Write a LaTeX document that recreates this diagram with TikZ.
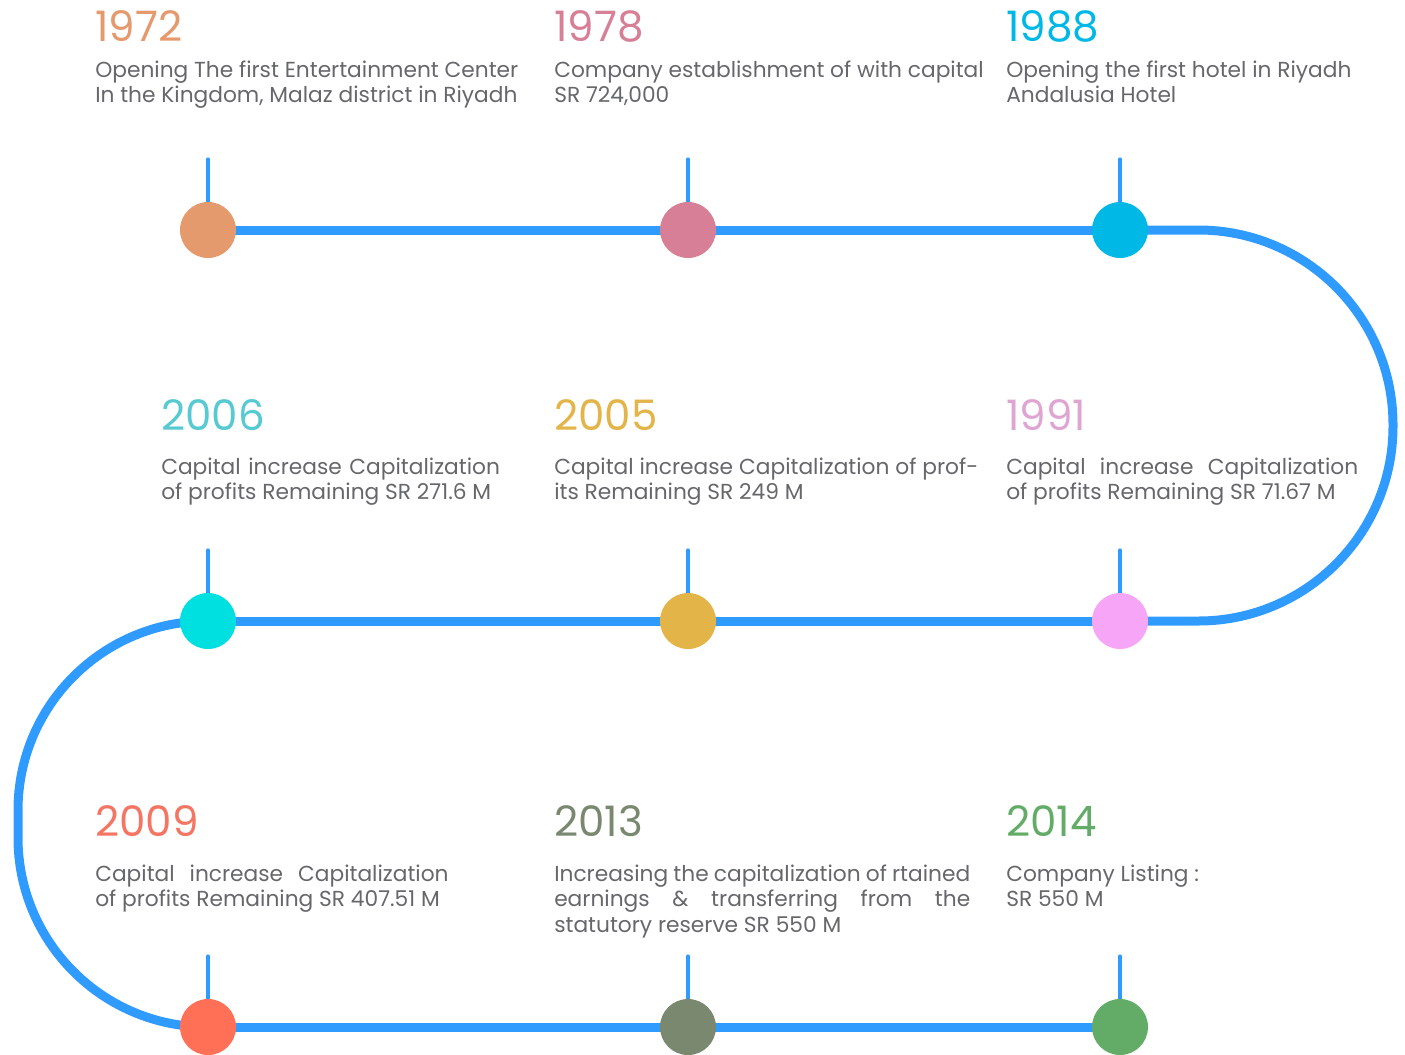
\documentclass[tikz,border=0pt]{standalone}
\usepackage{fontspec}
\setmainfont{Poppins}
\usetikzlibrary{positioning,backgrounds}

\definecolor{lineblue}{HTML}{2F9BFF}
\definecolor{textgray}{HTML}{66676B}
\definecolor{c72}{HTML}{E59A6E}
\definecolor{c78}{HTML}{D67F96}
\definecolor{c88}{HTML}{00B8E6}
\definecolor{c91}{HTML}{F7A6F7}
\definecolor{c05}{HTML}{E3B447}
\definecolor{c06}{HTML}{00E0E0}
\definecolor{c09}{HTML}{FF7057}
\definecolor{c13}{HTML}{7A8870}
\definecolor{c14}{HTML}{62AC67}
\definecolor{y91}{HTML}{DFA5D2}
\definecolor{y06}{HTML}{56C9D2}
\definecolor{y09}{HTML}{F47561}

% one justified line of a given width
\newcommand{\spreadline}[2]{{\spaceskip=0pt\xspaceskip=0pt\makebox[#1][s]{#2}}}

\tikzset{
  milestone/.style={circle,fill=#1,minimum size=42pt,inner sep=0pt},
  year/.style={anchor=base west,text=#1,inner sep=0pt,
    font=\fontsize{31.5}{38}\selectfont},
  info/.style={anchor=base west,text=textgray,inner sep=0pt,align=justify,
    text width=330pt,font=\fontsize{16.3}{19.3}\selectfont},
  track/.style={lineblue,line width=6.75pt},
  tick/.style={lineblue,line width=2.4pt,line cap=round},
}

\begin{document}
\begin{tikzpicture}[x=0.75pt,y=-0.75pt]
  \useasboundingbox (0,0) rectangle (1405,1054);

  % stops
  \node[milestone=c72] (d72) at (208,230) {};
  \node[milestone=c78] (d78) at (688,230) {};
  \node[milestone=c88] (d88) at (1120,230) {};
  \node[milestone=c91] (d91) at (1120,621) {};
  \node[milestone=c05] (d05) at (688,621) {};
  \node[milestone=c06] (d06) at (208,621) {};
  \node[milestone=c09] (d09) at (208,1027) {};
  \node[milestone=c13] (d13) at (688,1027) {};
  \node[milestone=c14] (d14) at (1120,1027) {};

  \foreach \s in {72,78,88,91,05,06,09,13,14}
    \coordinate[above=32pt of d\s.north] (t\s);

  \coordinate (cr1) at (1393,230);
  \coordinate (cr2) at (1393,621);
  \coordinate (cl1) at (18,621);
  \coordinate (cl2) at (18,1027);

  % years
  \node[year=c72] (y72) at (95,41) {1972};
  \node[year=c78] (y78) at (554,41) {1978};
  \node[year=c88] (y88) at (1006,41) {1988};
  \node[year=y06] (y06) at (161,430) {2006};
  \node[year=c05] (y05) at (554,430) {2005};
  \node[year=y91] (y91) at (1006,430) {1991};
  \node[year=y09] (y09) at (95,836) {2009};
  \node[year=c13] (y13) at (554,836) {2013};
  \node[year=c14] (y14) at (1006,836) {2014};

  % texts
  \node[info] (i72) at (95,77) {Opening The first Entertainment Center\\In the Kingdom, Malaz district in Riyadh};
  \node[info] (i78) at (554,77) {Company establishment of with capital\\SR 724,000};
  \node[info] (i88) at (1006,77) {Opening the first hotel in Riyadh\\Andalusia Hotel};
  \node[info] (i06) at (161,474) {\spreadline{254pt}{Capital increase Capitalization}\\of profits Remaining SR 271.6 M};
  \node[info] (i05) at (554,474) {\spreadline{318pt}{Capital increase Capitalization of prof-}\\its Remaining SR 249 M};
  \node[info] (i91) at (1006,474) {\spreadline{264pt}{Capital increase Capitalization}\\of profits Remaining SR 71.67 M};
  \node[info] (i09) at (95,881) {\spreadline{265pt}{Capital increase Capitalization}\\of profits Remaining SR 407.51 M};
  \node[info] (i13) at (554,881) {\spreadline{312pt}{Increasing the capitalization of rtained}\\\spreadline{312pt}{earnings \& transferring from the}\\statutory reserve SR 550 M};
  \node[info] (i14) at (1006,881) {Company Listing :\\SR 550 M};

  \begin{pgfonlayer}{background}
    \draw[track] (d72.center) -- (d78.center) -- (d88.center);
    \draw[track,rounded corners=146pt] (d88.center) -- (cr1) -- (cr2) -- (d91.center);
    \draw[track] (d91.center) -- (d05.center) -- (d06.center);
    \draw[track,rounded corners=142pt] (d06.center) -- (cl1) -- (cl2) -- (d09.center);
    \draw[track] (d09.center) -- (d13.center) -- (d14.center);
    \foreach \s in {72,78,88,91,05,06,09,13,14}
      \draw[tick] (t\s) -- (d\s.center);
  \end{pgfonlayer}
\end{tikzpicture}
\end{document}
